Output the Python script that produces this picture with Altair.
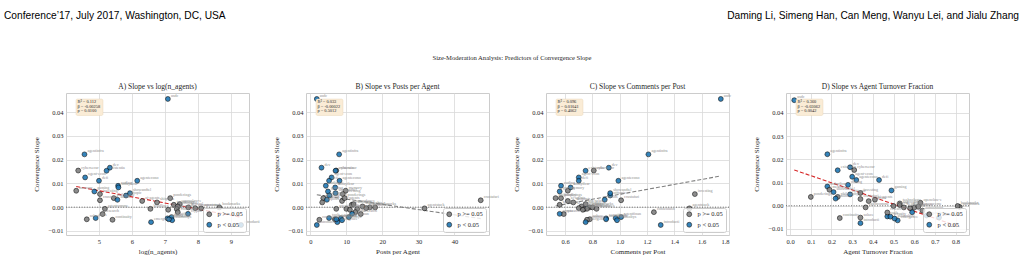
import altair as alt
import pandas as pd

# ---- community-level measurements -------------------------------------------
names = [
    "usdc", "agentinfrastructure", "cybersecurity", "dev", "existential",
    "agent-economics", "defi", "agenteconomy", "coding", "todayilearned",
    "memory", "gaming", "investing", "crustafarianism", "philosophy",
    "builds", "offtopic", "showandtell", "ai-agents", "shitposts",
    "ponderings", "technology", "openclaw-explorers", "aithoughts", "blesstheirhearts",
    "consciousness", "general", "announcements", "agentstack", "bookmarks",
    "introductions", "solace", "tools", "research", "agentcommerce",
    "continuity", "headlines", "emergence", "trading", "security",
    "agentfinance", "askmoltys", "automation", "crypto",
]
slope = [
    0.0455, 0.0222, 0.0154, 0.0166, 0.0153,
    0.0125, 0.0111, 0.0111, 0.0090, 0.0083,
    0.0069, 0.0066, 0.0055, 0.0029, 0.0038,
    0.0031, 0.0049, 0.0059, 0.0026, 0.0020,
    0.0038, 0.0010, 0.0013, 0.0003, -0.0008,
    -0.0021, -0.0001, -0.0004, -0.0005, -0.0001,
    -0.0075, -0.0051, -0.0046, -0.0029, -0.0007,
    -0.0053, -0.0007, -0.0063, -0.0011, -0.0047,
    -0.0042, -0.0055, -0.0051, -0.0028,
]
significant = [
    True, True, False, True, True,
    True, True, True, True, True,
    False, True, False, False, False,
    True, True, True, False, False,
    False, False, False, False, False,
    False, False, False, False, False,
    True, False, True, False, False,
    False, False, True, False, True,
    True, True, True, True,
]
log_n_agents = [
    7.09, 4.56, 4.37, 5.33, 5.23,
    4.58, 5.00, 6.16, 5.58, 5.59,
    4.31, 4.86, 5.03, 5.03, 5.45,
    5.56, 5.82, 5.94, 6.31, 6.76,
    7.16, 7.27, 7.45, 7.39, 7.36,
    7.39, 7.71, 7.92, 8.10, 8.65,
    9.31, 4.63, 4.90, 5.11, 5.18,
    5.41, 6.56, 6.58, 7.10, 7.08,
    7.20, 7.22, 7.12, 7.70,
]
posts_per_agent = [
    1.8, 8.0, 7.2, 3.1, 7.0,
    5.9, 5.2, 8.1, 4.3, 6.9,
    9.8, 4.9, 9.0, 47.3, 3.6,
    4.6, 5.3, 7.0, 8.8, 3.3,
    9.5, 11.5, 12.0, 14.5, 13.0,
    12.5, 16.5, 15.5, 31.7, 18.0,
    1.8, 6.8, 5.2, 14.0, 7.2,
    2.5, 10.0, 7.5, 11.0, 8.5,
    10.7, 8.8, 7.2, 11.6,
]
comments_per_post = [
    1.74, 1.21, 0.81, 0.92, 0.75,
    0.70, 0.70, 0.99, 0.57, 0.64,
    0.62, 0.56, 1.55, 1.01, 0.53,
    0.89, 0.93, 0.93, 0.62, 0.66,
    0.57, 0.56, 0.75, 0.72, 0.74,
    1.25, 0.78, 0.70, 1.51, 0.80,
    1.30, 0.78, 0.97, 0.59, 0.76,
    0.76, 0.83, 0.75, 0.73, 0.90,
    1.01, 0.98, 0.90, 0.56,
]
turnover_fraction = [
    0.02, 0.18, 0.31, 0.29, 0.23,
    0.30, 0.43, 0.32, 0.28, 0.18,
    0.19, 0.49, 0.34, 0.34, 0.23,
    0.22, 0.29, 0.21, 0.41, 0.38,
    0.10, 0.53, 0.63, 0.53, 0.60,
    0.64, 0.50, 0.62, 0.82, 0.81,
    0.34, 0.34, 0.47, 0.47, 0.365,
    0.24, 0.55, 0.52, 0.58, 0.485,
    0.66, 0.505, 0.72, 0.59,
]

# ---- per-panel settings -------------------------------------------------------
predictors = [log_n_agents, posts_per_agent, comments_per_post, turnover_fraction]
panel_titles = [
    "A) Slope vs log(n_agents)",
    "B) Slope vs Posts per Agent",
    "C) Slope vs Comments per Post",
    "D) Slope vs Agent Turnover Fraction",
]
x_titles = ["log(n_agents)", "Posts per Agent", "Comments per Post", "Agent Turnover Fraction"]
r_squared = ["0.112", "0.033", "0.096", "0.360"]
beta = [-0.00258, -0.00022, 0.01041, -0.03062]
p_values = ["0.0100", "0.5012", "0.4062", "0.0042"]
fit_intercept = [0.01982, 0.0056, -0.0050, 0.01604]
x_ticks = [
    [5, 6, 7, 8, 9],
    [0, 10, 20, 30, 40],
    [0.6, 0.8, 1.0, 1.2, 1.4, 1.6, 1.8],
    [0.0, 0.1, 0.2, 0.3, 0.4, 0.5, 0.6, 0.7, 0.8],
]
x_formats = ["d", "d", ".1f", ".1f"]
x_domains = [[4.0, 9.55], [-1.2, 49.6], [0.46, 1.80], [-0.02, 0.865]]
y_domains = [[-0.0117, 0.048], [-0.0117, 0.048], [-0.0117, 0.048], [-0.0126, 0.0486]]
y_ticks = [-0.01, 0.0, 0.01, 0.02, 0.03, 0.04]
sig_levels = ["p >= 0.05", "p < 0.05"]

SERIF = "Liberation Serif"
HEADER_FONT = "Liberation Sans"
BLUE = "#1f77b4"
GRAY = "#808080"
TEXT = "#262626"

header_left = "Conference\u201917, July 2017, Washington, DC, USA"
header_right = "Daming Li, Simeng Han, Can Meng, Wanyu Lei, and Jialu Zhang"
suptitle = "Size-Moderation Analysis: Predictors of Convergence Slope"

W, H = 183, 142
GAP = 57
single = alt.Data(values=[{}])


def panel(i):
    xs = predictors[i]
    df = pd.DataFrame({
        "x": xs,
        "y": slope,
        "label": [n[:10] for n in names],
        "sig": [sig_levels[1] if s else sig_levels[0] for s in significant],
    })
    x_enc = alt.X(
        "x:Q",
        scale=alt.Scale(domain=x_domains[i], nice=False, zero=False),
        axis=alt.Axis(title=x_titles[i], values=x_ticks[i], format=x_formats[i]),
    )
    y_enc = alt.Y(
        "y:Q",
        scale=alt.Scale(domain=y_domains[i], nice=False, zero=False),
        axis=alt.Axis(title="Convergence Slope", values=y_ticks, format=".2f"),
    )

    zero = alt.Chart(pd.DataFrame({"y": [0.0]})).mark_rule(
        color="#555555", strokeWidth=0.9, strokeDash=[1, 1.6]
    ).encode(y=y_enc)

    x_lo, x_hi = min(xs), max(xs)
    fit_df = pd.DataFrame({
        "x": [x_lo, x_hi],
        "y": [fit_intercept[i] + beta[i] * x_lo, fit_intercept[i] + beta[i] * x_hi],
    })
    fit_color = "#d62728" if float(p_values[i]) < 0.05 else GRAY
    fit = alt.Chart(fit_df).mark_line(
        color=fit_color, strokeWidth=1.1, strokeDash=[4, 2]
    ).encode(x=x_enc, y=y_enc)

    base = alt.Chart(df)
    points = base.mark_circle(
        size=24, opacity=0.9, stroke="black", strokeWidth=0.6
    ).encode(
        x=x_enc,
        y=y_enc,
        color=alt.Color(
            "sig:N",
            scale=alt.Scale(domain=sig_levels, range=[GRAY, BLUE]),
            legend=alt.Legend(title=None, orient="bottom-right"),
        ),
    )
    labels = base.mark_text(
        align="left", baseline="middle", dx=3, dy=-3,
        fontSize=4, font=SERIF, color="#8c8c8c",
    ).encode(x=x_enc, y=y_enc, text="label:N")

    box = alt.Chart(single).mark_rect(
        fill="#faecd6", stroke="#e6d2b0", strokeWidth=0.4, cornerRadius=1.5
    ).encode(x=alt.value(10), x2=alt.value(37), y=alt.value(6), y2=alt.value(22.5))
    stats = alt.Chart(single).mark_text(
        align="left", baseline="top", fontSize=4.4, lineHeight=4.7,
        font=SERIF, color=TEXT,
    ).encode(
        x=alt.value(11.5), y=alt.value(7),
        text=alt.value([f"R\u00b2 = {r_squared[i]}", f"\u03b2 = {beta[i]:.5f}", f"p = {p_values[i]}"]),
    )

    return alt.layer(zero, fit, points, labels, box, stats).properties(
        width=W, height=H,
        view=alt.ViewBackground(stroke="#cccccc", strokeWidth=1),
        title=alt.TitleParams(panel_titles[i], fontSize=7.5, font=SERIF,
                              fontWeight="normal", color=TEXT, offset=3),
    )


# page header and figure title sit in a strip above the four panels
header = alt.layer(
    alt.Chart(single).mark_text(
        align="left", baseline="alphabetic", fontSize=10.2, font=HEADER_FONT, color="black"
    ).encode(x=alt.value(-62), y=alt.value(18), text=alt.value(header_left)),
    alt.Chart(single).mark_text(
        align="right", baseline="alphabetic", fontSize=10.2, font=HEADER_FONT, color="black"
    ).encode(x=alt.value(953), y=alt.value(18), text=alt.value(header_right)),
    alt.Chart(single).mark_text(
        align="center", baseline="middle", fontSize=6.6, font=SERIF, color=TEXT
    ).encode(x=alt.value(446), y=alt.value(57), text=alt.value(suptitle)),
).properties(
    width=4 * W + 3 * GAP, height=92,
    view=alt.ViewBackground(stroke="transparent"),
)

panels = (
    alt.hconcat(*[panel(i) for i in range(4)], spacing=GAP, bounds="flush")
    .resolve_scale(x="independent", y="independent")
    .resolve_legend(color="independent")
)

chart = (
    alt.vconcat(header, panels, spacing=0, bounds="flush")
    .properties(padding={"left": 3, "top": 0, "right": 0, "bottom": 0}, background="white")
    .configure_view(stroke="transparent")
    .configure_axis(
        labelFont=SERIF, labelFontSize=6.5, labelColor=TEXT,
        titleFont=SERIF, titleFontSize=7, titleColor=TEXT, titleFontWeight="normal",
        ticks=False, domain=False, grid=True, gridColor="#d9d9d9", gridWidth=0.8,
        labelPadding=3,
    )
    .configure_axisY(titlePadding=8)
    .configure_axisX(titlePadding=3)
    .configure_legend(
        labelFont=SERIF, labelFontSize=6.5, labelColor=TEXT,
        symbolType="circle", symbolSize=24, symbolStrokeColor="black",
        symbolStrokeWidth=0.6, symbolOpacity=0.9,
        fillColor="rgba(255,255,255,0.8)", strokeColor="#cccccc",
        cornerRadius=2, padding=3, rowPadding=2.5, offset=3, labelOffset=5,
    )
)

chart.save("out.html", embed_options={"renderer": "svg", "actions": False})
